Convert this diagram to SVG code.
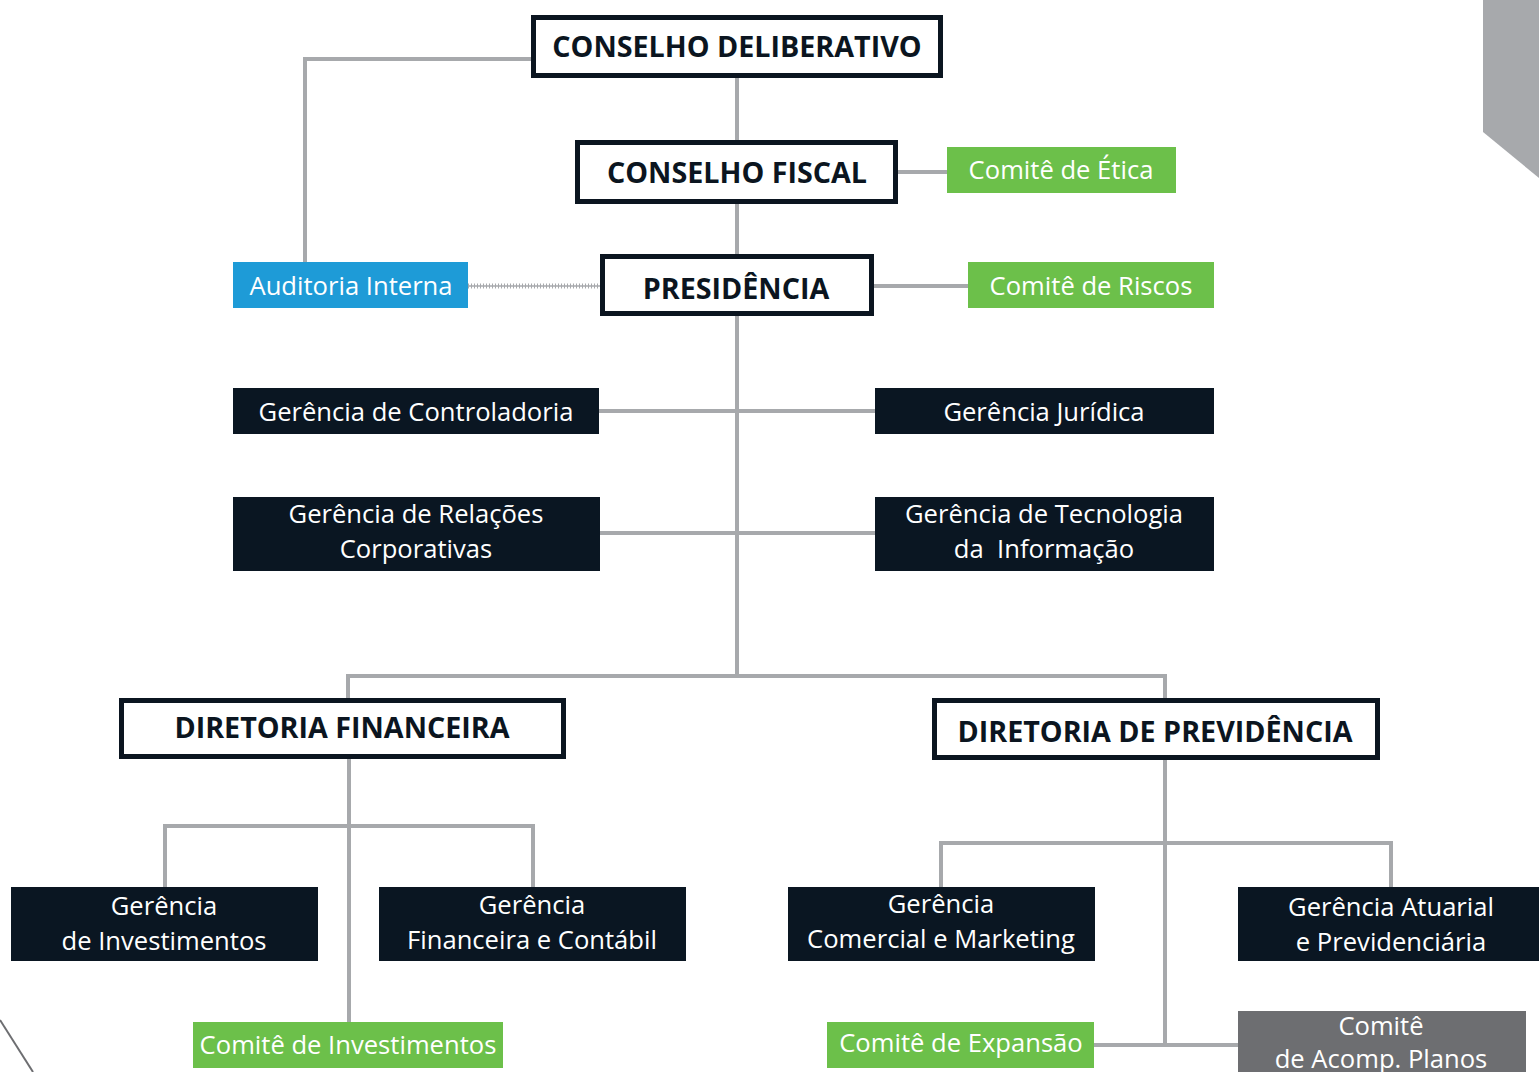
<svg xmlns="http://www.w3.org/2000/svg" width="1539" height="1072" viewBox="0 0 1539 1072">
<style>
.c{fill:none;stroke:#a7a9ac;stroke-width:4}
.ob{fill:#fff;stroke:#0b1520;stroke-width:5}
.dk{fill:#0a1622}
.gr{fill:#6cc04a}
.bl{fill:#1e9bd7}
.gy{fill:#6d6e71}
.t{font-family:"Open Sans","Noto Sans",sans-serif;font-size:25.6px;fill:#fff;text-anchor:middle}
.b{font-family:"Open Sans","Noto Sans",sans-serif;font-size:28.7px;font-weight:bold;fill:#0b1520;text-anchor:middle}
</style>
<rect width="1539" height="1072" fill="#fff"/>
<polygon points="1483,0 1539,0 1539,178 1483,132" fill="#a7a9ac"/>
<line x1="0" y1="1020" x2="33" y2="1072" stroke="#6d6e71" stroke-width="2"/>
<g id="connectors">
<polyline class="c" points="533,59 305,59 305,262"/>
<line class="c" x1="737" y1="78" x2="737" y2="676"/>
<line class="c" x1="898" y1="172" x2="947" y2="172"/>
<line class="c" x1="874" y1="286" x2="968" y2="286"/>
<line x1="468" y1="286" x2="600" y2="286" stroke="#a7a9ac" stroke-width="1.5"/>
<line x1="468" y1="286" x2="600" y2="286" stroke="#a7a9ac" stroke-width="5" stroke-dasharray="1 2"/>
<line class="c" x1="599" y1="411" x2="875" y2="411"/>
<line class="c" x1="600" y1="533" x2="875" y2="533"/>
<polyline class="c" points="348,698 348,676 1165,676 1165,698"/>
<line class="c" x1="349" y1="759" x2="349" y2="1022"/>
<polyline class="c" points="165,887 165,826 533,826 533,887"/>
<line class="c" x1="1165" y1="760" x2="1165" y2="1045"/>
<polyline class="c" points="941,887 941,843 1391,843 1391,887"/>
<line class="c" x1="1094" y1="1045" x2="1238" y2="1045"/>
</g>
<g id="conselho-deliberativo"><rect class="ob" x="533.5" y="17.5" width="407" height="58"/><text class="b" x="737" y="57">CONSELHO DELIBERATIVO</text></g>
<g id="conselho-fiscal"><rect class="ob" x="577.5" y="142.5" width="318" height="59"/><text class="b" x="737" y="183">CONSELHO FISCAL</text></g>
<g id="presidencia"><rect class="ob" x="602.5" y="256.5" width="269" height="57"/><text class="b" x="736" y="299">PRESIDÊNCIA</text></g>
<g id="comite-etica"><rect class="gr" x="947" y="147" width="229" height="46"/><text class="t" x="1061" y="179">Comitê de Ética</text></g>
<g id="auditoria"><rect class="bl" x="233" y="262" width="235" height="46"/><text class="t" x="351" y="295">Auditoria Interna</text></g>
<g id="comite-riscos"><rect class="gr" x="968" y="262" width="246" height="46"/><text class="t" x="1091" y="295">Comitê de Riscos</text></g>
<g id="ger-controladoria"><rect class="dk" x="233" y="388" width="366" height="46"/><text class="t" x="416" y="421">Gerência de Controladoria</text></g>
<g id="ger-juridica"><rect class="dk" x="875" y="388" width="339" height="46"/><text class="t" x="1044" y="421">Gerência Jurídica</text></g>
<g id="ger-relacoes"><rect class="dk" x="233" y="497" width="367" height="74"/><text class="t" x="416" y="523">Gerência de Relações</text><text class="t" x="416" y="558">Corporativas</text></g>
<g id="ger-ti"><rect class="dk" x="875" y="497" width="339" height="74"/><text class="t" x="1044" y="523">Gerência de Tecnologia</text><text class="t" x="1044" y="558" xml:space="preserve">da  Informação</text></g>
<g id="dir-financeira"><rect class="ob" x="121.5" y="700.5" width="442" height="56"/><text class="b" x="342" y="738">DIRETORIA FINANCEIRA</text></g>
<g id="dir-previdencia"><rect class="ob" x="934.5" y="700.5" width="443" height="57"/><text class="b" x="1155" y="742">DIRETORIA DE PREVIDÊNCIA</text></g>
<g id="ger-investimentos"><rect class="dk" x="11" y="887" width="307" height="74"/><text class="t" x="164" y="915">Gerência</text><text class="t" x="164" y="950">de Investimentos</text></g>
<g id="ger-financeira"><rect class="dk" x="379" y="887" width="307" height="74"/><text class="t" x="532" y="914">Gerência</text><text class="t" x="532" y="949">Financeira e Contábil</text></g>
<g id="ger-comercial"><rect class="dk" x="788" y="887" width="307" height="74"/><text class="t" x="941" y="913">Gerência</text><text class="t" x="941" y="948">Comercial e Marketing</text></g>
<g id="ger-atuarial"><rect class="dk" x="1238" y="887" width="301" height="74"/><text class="t" x="1391" y="916">Gerência Atuarial</text><text class="t" x="1391" y="951">e Previdenciária</text></g>
<g id="comite-investimentos"><rect class="gr" x="193" y="1022" width="310" height="46"/><text class="t" x="348" y="1054">Comitê de Investimentos</text></g>
<g id="comite-expansao"><rect class="gr" x="827" y="1022" width="267" height="46"/><text class="t" x="961" y="1052">Comitê de Expansão</text></g>
<g id="comite-acomp"><rect class="gy" x="1238" y="1011" width="288" height="61"/><text class="t" x="1381" y="1035">Comitê</text><text class="t" x="1381" y="1068">de Acomp. Planos</text></g>
</svg>
